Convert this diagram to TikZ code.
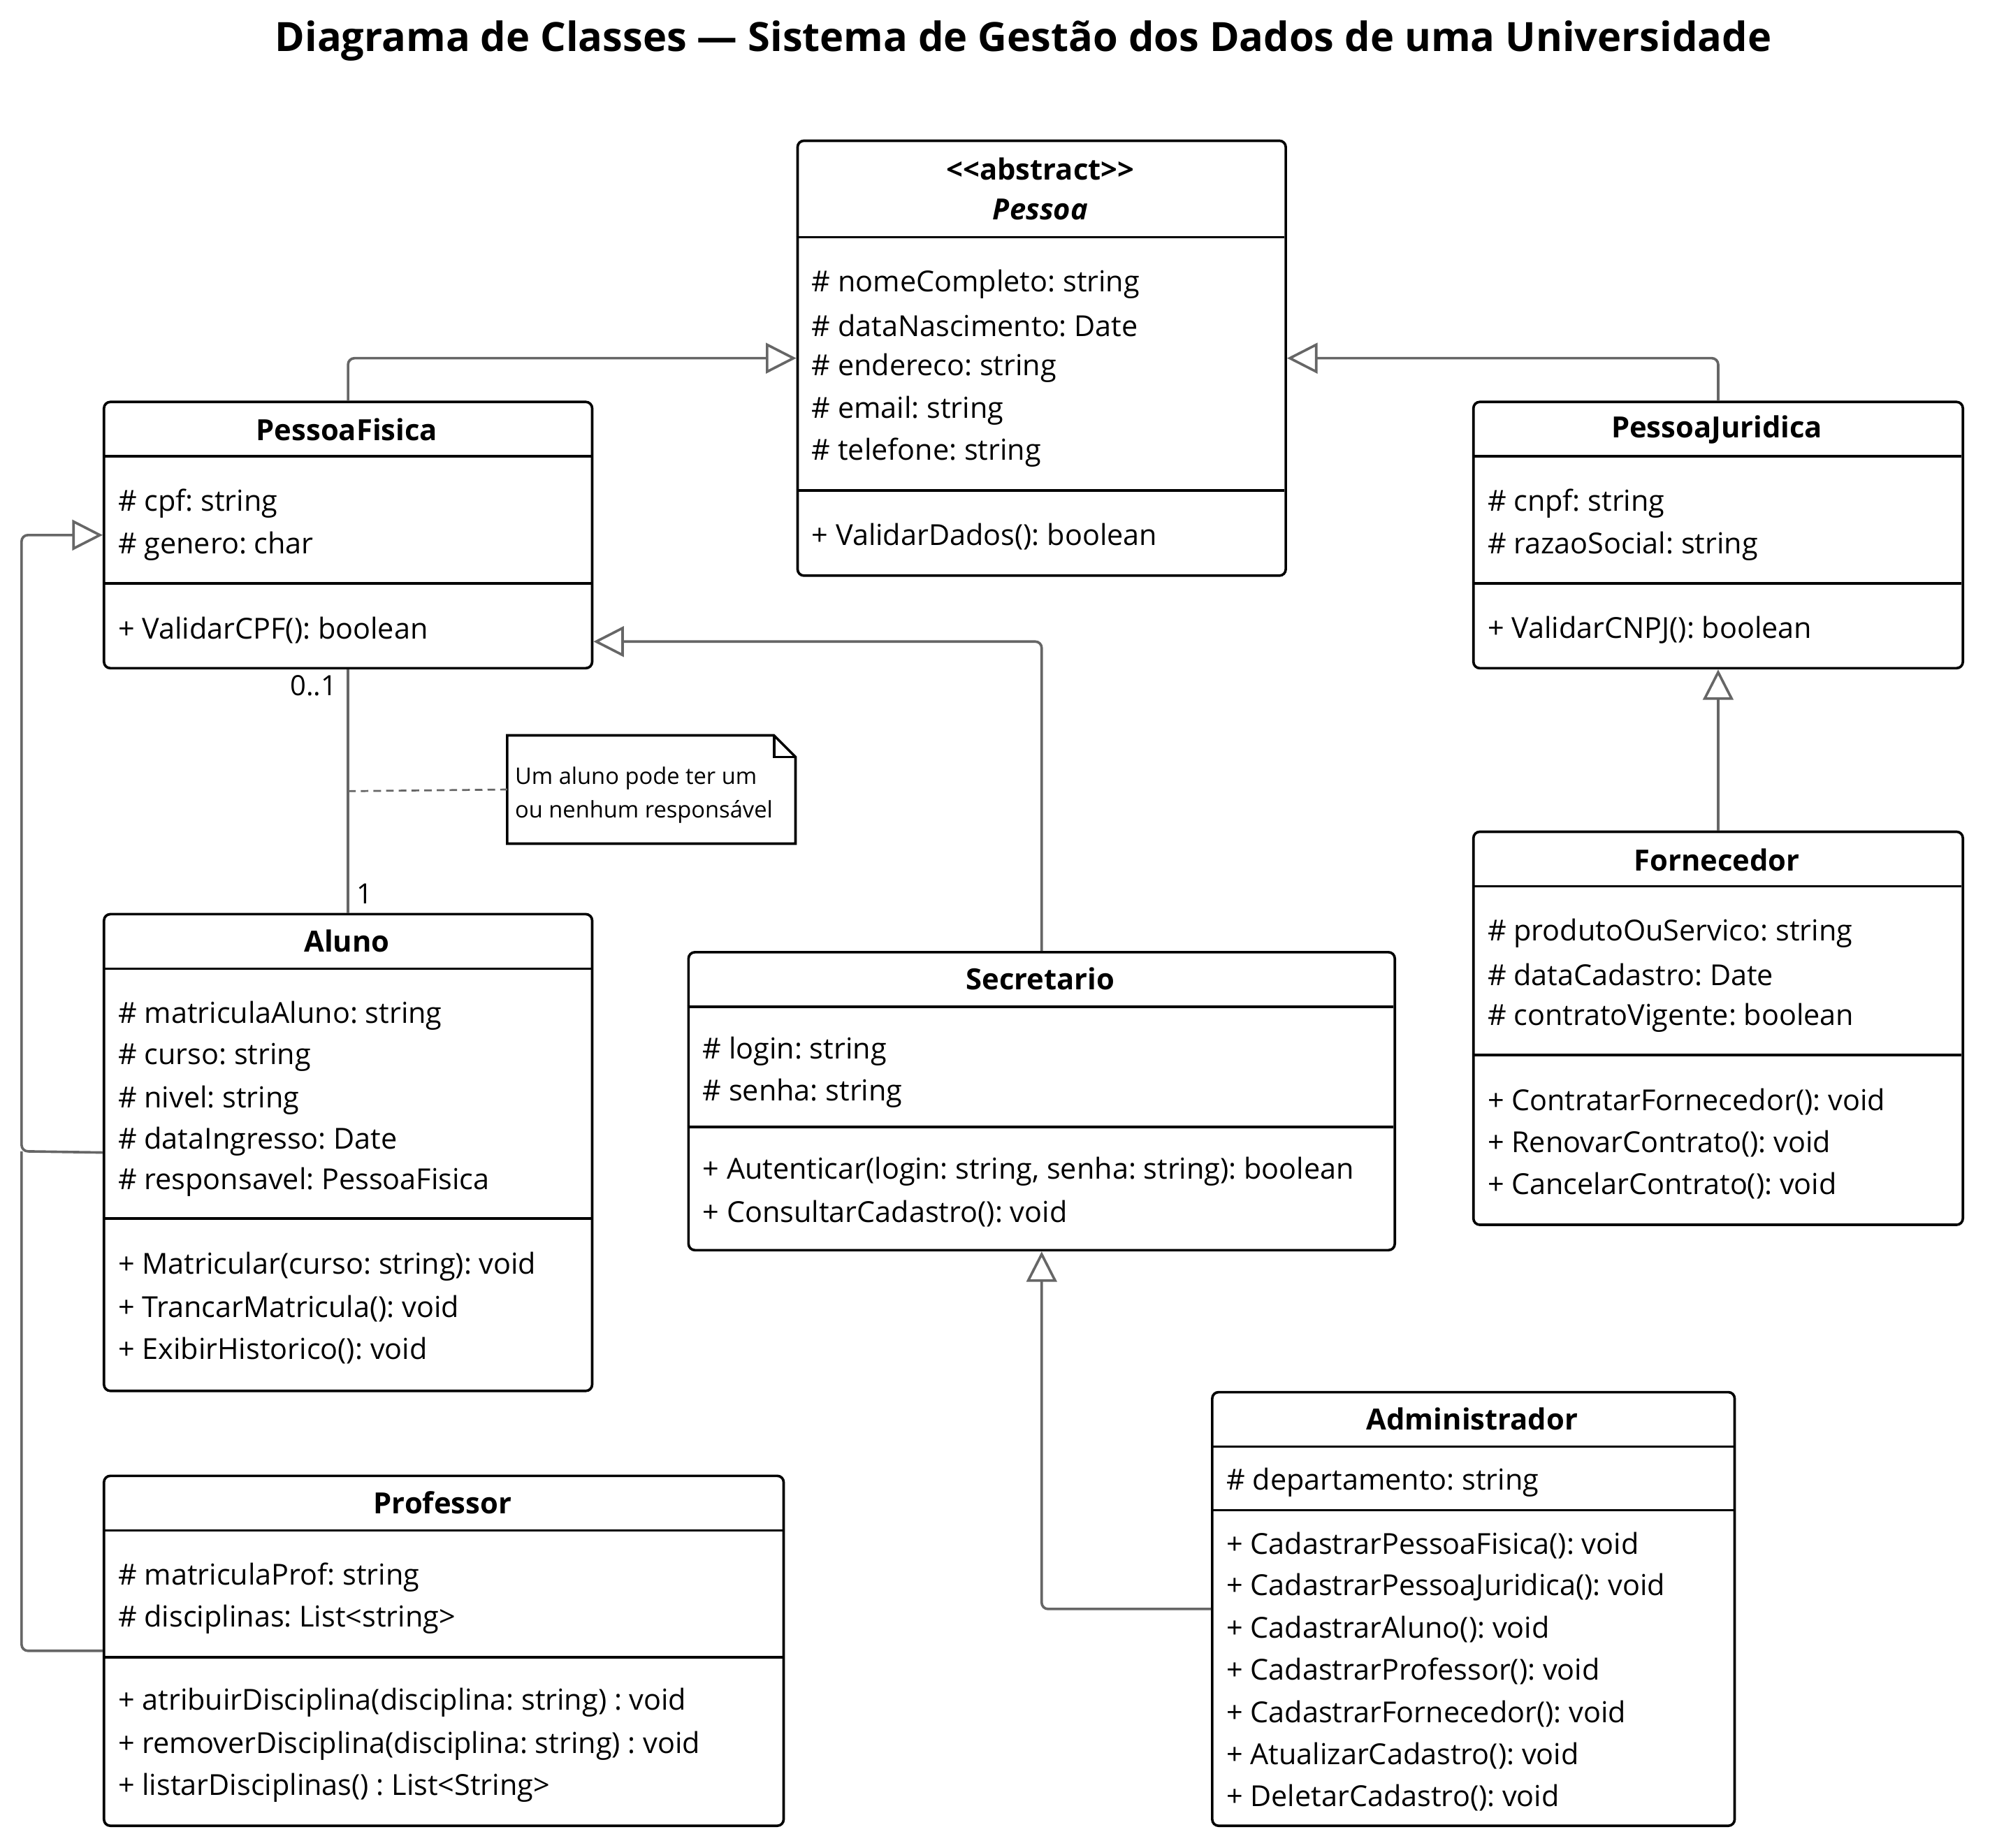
\documentclass[tikz,border=0pt]{standalone}
\usepackage{fontspec}
\setmainfont{Open Sans}[Ligatures=TeXOff]
\usetikzlibrary{arrows.meta,calc}
\definecolor{conn}{HTML}{666666}
\begin{document}
\frenchspacing
\begin{tikzpicture}[x=1pt,y=-1pt,
  box/.style={draw=black, line width=2pt, rounded corners=5pt, inner sep=0pt, anchor=north west},
  div/.style={draw=black, line width=2pt},
  txt/.style={anchor=west, inner sep=0pt, yshift=-3pt, font=\fontsize{22.8}{26}\selectfont},
  hdr/.style={inner sep=0pt, font=\fontsize{23}{26}\selectfont\bfseries},
  gen/.style={draw=conn, line width=2pt, rounded corners=5pt, -{Triangle[length=24pt,width=24pt,fill=white]}},
  assoc/.style={draw=conn, line width=2pt},
  notelink/.style={draw=conn, line width=1.5pt, dash pattern=on 6pt off 4pt},
  mult/.style={inner sep=0pt, font=\fontsize{22}{25}\selectfont},
  notetxt/.style={anchor=west, inner sep=0pt, yshift=-3pt, font=\fontsize{18}{21}\selectfont}]
\fill[white] (0,0) rectangle (1569.4,1457.0);
\useasboundingbox (0,0) rectangle (1569.4,1457.0);

% Title
\node[inner sep=0pt, font=\fontsize{31.8}{36}\selectfont\bfseries] (title) at (807,32) {Diagrama de Classes — Sistema de Gestão dos Dados de uma Universidade};

% Pessoa
\node[box, minimum width=385pt, minimum height=343pt] (pessoa) at (628,110) {};
\node[hdr] (pessoaS) at (820.5,133) {<<abstract>>};
\node[hdr, font=\fontsize{23}{26}\selectfont\bfseries\itshape] (pessoaN) at (820.5,165) {Pessoa};
\draw[div] (628,187) -- (1013,187);
\node[txt] (p1) at (640,221) {\# nomeCompleto: string};
\node[txt] (p2) at (640,254) {\# dataNascimento: Date};
\node[txt] (p3) at (640,287) {\# endereco: string};
\node[txt] (p4) at (640,321) {\# email: string};
\node[txt] (p5) at (640,354) {\# telefone: string};
\draw[div] (628,387) -- (1013,387);
\node[txt] (p6) at (640,420) {+ ValidarDados(): boolean};

% PessoaFisica
\node[box, minimum width=385pt, minimum height=210pt] (pf) at (81,316) {};
\node[hdr] (pfN) at (273.5,339) {PessoaFisica};
\draw[div] (81,360) -- (466,360);
\node[txt] (pf1) at (93,394) {\# cpf: string};
\node[txt] (pf2) at (93,428) {\# genero: char};
\draw[div] (81,460) -- (466,460);
\node[txt] (pf3) at (93,494) {+ ValidarCPF(): boolean};

% PessoaJuridica
\node[box, minimum width=386pt, minimum height=210pt] (pj) at (1161,316) {};
\node[hdr] (pjN) at (1354,339) {PessoaJuridica};
\draw[div] (1161,360) -- (1547,360);
\node[txt] (pj1) at (1173,394) {\# cnpf: string};
\node[txt] (pj2) at (1173,428) {\# razaoSocial: string};
\draw[div] (1161,460) -- (1547,460);
\node[txt] (pj3) at (1173,494) {+ ValidarCNPJ(): boolean};

% Fornecedor
\node[box, minimum width=386pt, minimum height=310pt] (forn) at (1161,655) {};
\node[hdr] (fornN) at (1354,678) {Fornecedor};
\draw[div] (1161,699) -- (1547,699);
\node[txt] (f1) at (1173,733) {\# produtoOuServico: string};
\node[txt] (f2) at (1173,766) {\# dataCadastro: Date};
\node[txt] (f3) at (1173,800) {\# contratoVigente: boolean};
\draw[div] (1161,832) -- (1547,832);
\node[txt] (f4) at (1173,866) {+ ContratarFornecedor(): void};
\node[txt] (f5) at (1173,899) {+ RenovarContrato(): void};
\node[txt] (f6) at (1173,932) {+ CancelarContrato(): void};

% Aluno
\node[box, minimum width=385pt, minimum height=376pt] (aluno) at (81,720) {};
\node[hdr] (alunoN) at (273.5,742) {Aluno};
\draw[div] (81,764) -- (466,764);
\node[txt] (a1) at (93,798) {\# matriculaAluno: string};
\node[txt] (a2) at (93,831) {\# curso: string};
\node[txt] (a3) at (93,865) {\# nivel: string};
\node[txt] (a4) at (93,897) {\# dataIngresso: Date};
\node[txt] (a5) at (93,929) {\# responsavel: PessoaFisica};
\draw[div] (81,961) -- (466,961);
\node[txt] (a6) at (93,996) {+ Matricular(curso: string): void};
\node[txt] (a7) at (93,1029) {+ TrancarMatricula(): void};
\node[txt] (a8) at (93,1062) {+ ExibirHistorico(): void};

% Secretario
\node[box, minimum width=557pt, minimum height=235pt] (sec) at (542,750) {};
\node[hdr] (secN) at (820.5,772) {Secretario};
\draw[div] (542,794) -- (1099,794);
\node[txt] (s1) at (554,826) {\# login: string};
\node[txt] (s2) at (554,859) {\# senha: string};
\draw[div] (542,889) -- (1099,889);
\node[txt] (s3) at (554,921) {+ Autenticar(login: string, senha: string): boolean};
\node[txt] (s4) at (554,954) {+ ConsultarCadastro(): void};

% Administrador
\node[box, minimum width=412pt, minimum height=342pt] (adm) at (955,1097) {};
\node[hdr] (admN) at (1161,1119) {Administrador};
\draw[div] (955,1141) -- (1367,1141);
\node[txt] (d1) at (967,1166) {\# departamento: string};
\draw[div] (955,1191) -- (1367,1191);
\node[txt] (d2) at (967,1216) {+ CadastrarPessoaFisica(): void};
\node[txt] (d3) at (967,1249) {+ CadastrarPessoaJuridica(): void};
\node[txt] (d4) at (967,1282) {+ CadastrarAluno(): void};
\node[txt] (d5) at (967,1315) {+ CadastrarProfessor(): void};
\node[txt] (d6) at (967,1349) {+ CadastrarFornecedor(): void};
\node[txt] (d7) at (967,1382) {+ AtualizarCadastro(): void};
\node[txt] (d8) at (967,1415) {+ DeletarCadastro(): void};

% Professor
\node[box, minimum width=536pt, minimum height=276pt] (prof) at (81,1163) {};
\node[hdr] (profN) at (349,1185) {Professor};
\draw[div] (81,1207) -- (617,1207);
\node[txt] (r1) at (93,1241) {\# matriculaProf: string};
\node[txt] (r2) at (93,1274) {\# disciplinas: List<string>};
\draw[div] (81,1307) -- (617,1307);
\node[txt] (r3) at (93,1340) {+ atribuirDisciplina(disciplina: string) : void};
\node[txt] (r4) at (93,1374) {+ removerDisciplina(disciplina: string) : void};
\node[txt] (r5) at (93,1407) {+ listarDisciplinas() : List<String>};

% Note
\node[inner sep=0pt, minimum width=227pt, minimum height=85pt, anchor=north west] (note) at (400,580) {};
\draw[black, line width=2pt] (note.north west) -- ([xshift=-17pt]note.north east) -- ([yshift=-17pt]note.north east) -- (note.south east) -- (note.south west) -- cycle;
\draw[black, line width=2pt] ([xshift=-17pt]note.north east) -- ([xshift=-17pt,yshift=-17pt]note.north east) -- ([yshift=-17pt]note.north east);
\node[notetxt] (n1) at (406,611) {Um aluno pode ter um};
\node[notetxt] (n2) at (406,637) {ou nenhum responsável};

% Connectors
\draw[gen] (pf.north) |- (pessoa.west);
\draw[gen] (pj.north) |- (pessoa.east);
\draw[gen] (forn.north) -- (pj.south);
\draw[gen] (sec.north) |- ([yshift=22pt]pf.south east);
\draw[gen] (adm.west) -| (sec.south);
\coordinate (busA) at (17,908);
\draw[gen] (aluno.west) -- (busA) |- (pf.west);
\draw[draw=conn, line width=2pt, rounded corners=5pt] (prof.west) -| (busA);
\draw[assoc] (pf.south) -- (aluno.north);
\coordinate (mid) at ($(pf.south)!0.5!(aluno.north)$);
\draw[notelink] (mid) -- (note.west);
\node[mult, anchor=east] (m1) at (266,541) {0..1};
\node[mult, anchor=west] (m2) at (281,705) {1};
\end{tikzpicture}
\end{document}
